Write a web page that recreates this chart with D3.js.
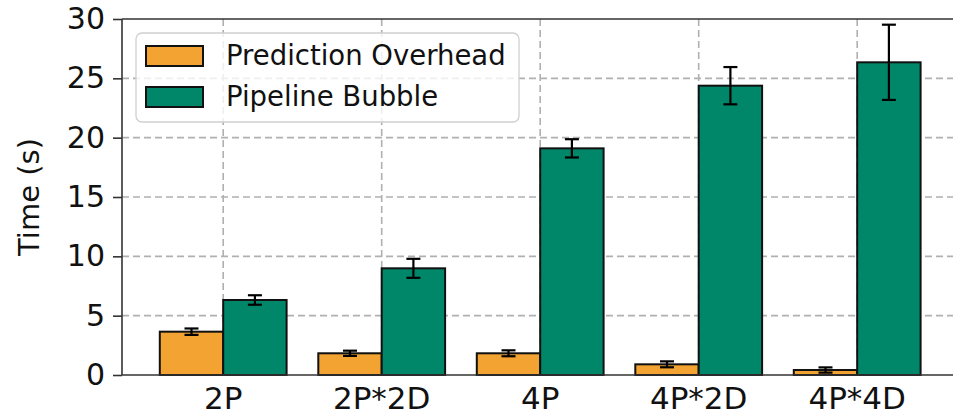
<!DOCTYPE html>
<html>
<head>
<meta charset="utf-8">
<script src="https://cdn.jsdelivr.net/npm/d3@7"></script>
<style>
  html, body { margin: 0; padding: 0; background: #fff; }
  svg { display: block; font-family: "DejaVu Sans", sans-serif; }
</style>
</head>
<body>
<svg id="chart" width="953" height="419"></svg>
<script>
// Configurations on the x axis
const categories = ["2P", "2P*2D", "4P", "4P*2D", "4P*4D"];

// Mean time (s) and error half-widths for each series
const predictionOverhead = [3.65, 1.83, 1.83, 0.90, 0.42];
const predictionOverheadErr = [0.27, 0.22, 0.25, 0.25, 0.22];
const pipelineBubble = [6.32, 8.99, 19.10, 24.38, 26.35];
const pipelineBubbleErr = [0.40, 0.80, 0.77, 1.57, 3.17];

const seriesNames = ["Prediction Overhead", "Pipeline Bubble"];
const yTicks = [0, 5, 10, 15, 20, 25, 30];

const colors = { "Prediction Overhead": "#F2A332", "Pipeline Bubble": "#00876A" };

const svg = d3.select("#chart");
const W = 953, H = 419;

// Plot area
const plotLeft = 122, plotTop = 19, plotBottom = 375, plotRight = 958.4;

const x = d3.scaleBand()
  .domain(categories)
  .range([plotLeft, plotRight])
  .paddingInner(0)
  .paddingOuter(0.1385);

const y = d3.scaleLinear().domain([0, 30]).range([plotBottom, plotTop]);

const barW = x.step() * 0.4;
const cx = c => x(c) + x.bandwidth() / 2;

const series = [
  { name: seriesNames[0], values: predictionOverhead, err: predictionOverheadErr, offset: -barW },
  { name: seriesNames[1], values: pipelineBubble, err: pipelineBubbleErr, offset: 0 }
];

// Dashed grid behind the bars
const grid = svg.append("g");
grid.selectAll("line.gy").data(yTicks.filter(t => t > 0 && t < 30)).join("line")
  .attr("x1", plotLeft).attr("x2", W)
  .attr("y1", d => y(d)).attr("y2", d => y(d))
  .attr("stroke", "#b0b0b0").attr("stroke-width", 1.6)
  .attr("stroke-dasharray", "7,4");
grid.selectAll("line.gx").data(categories).join("line")
  .attr("x1", d => cx(d)).attr("x2", d => cx(d))
  .attr("y1", plotTop).attr("y2", plotBottom)
  .attr("stroke", "#b0b0b0").attr("stroke-width", 1.6)
  .attr("stroke-dasharray", "7,4");

// Bars
series.forEach(s => {
  svg.append("g").selectAll("rect").data(categories).join("rect")
    .attr("x", (c) => cx(c) + s.offset)
    .attr("y", (c, i) => y(s.values[i]))
    .attr("width", barW)
    .attr("height", (c, i) => y(0) - y(s.values[i]))
    .attr("fill", colors[s.name])
    .attr("stroke", "#111")
    .attr("stroke-width", 2);
});

// Error bars
const cap = 7;
series.forEach(s => {
  const g = svg.append("g").attr("stroke", "#000").attr("stroke-width", 2.2);
  categories.forEach((c, i) => {
    const xc = cx(c) + s.offset + barW / 2;
    const lo = y(s.values[i] - s.err[i]);
    const hi = y(s.values[i] + s.err[i]);
    g.append("line").attr("x1", xc).attr("x2", xc).attr("y1", lo).attr("y2", hi);
    g.append("line").attr("x1", xc - cap).attr("x2", xc + cap).attr("y1", lo).attr("y2", lo);
    g.append("line").attr("x1", xc - cap).attr("x2", xc + cap).attr("y1", hi).attr("y2", hi);
  });
});

// Spines
svg.append("line").attr("x1", plotLeft).attr("x2", W).attr("y1", plotTop).attr("y2", plotTop)
  .attr("stroke", "#333").attr("stroke-width", 1.6);
svg.append("line").attr("x1", plotLeft).attr("x2", W).attr("y1", plotBottom).attr("y2", plotBottom)
  .attr("stroke", "#333").attr("stroke-width", 1.6);
svg.append("line").attr("x1", plotLeft).attr("x2", plotLeft).attr("y1", plotTop).attr("y2", plotBottom)
  .attr("stroke", "#333").attr("stroke-width", 1.6);

// Y axis
const yAxis = d3.axisLeft(y).tickValues(yTicks).tickSize(9).tickPadding(8);
const gy = svg.append("g").attr("transform", `translate(${plotLeft},0)`).call(yAxis);
gy.select(".domain").remove();
gy.selectAll(".tick line").attr("stroke", "#333").attr("stroke-width", 1.6);
gy.selectAll(".tick text").attr("font-size", 30).attr("fill", "#111")
  .attr("font-family", "DejaVu Sans");

// X axis (labels only)
const xAxis = d3.axisBottom(x).tickSize(0).tickPadding(12);
const gx = svg.append("g").attr("transform", `translate(0,${plotBottom})`).call(xAxis);
gx.select(".domain").remove();
gx.selectAll(".tick text").attr("font-size", 31).attr("fill", "#111")
  .attr("font-family", "DejaVu Sans");

// Y label
svg.append("text")
  .attr("transform", `translate(39,197) rotate(-90)`)
  .attr("text-anchor", "middle")
  .attr("font-size", 29).attr("fill", "#111")
  .text("Time (s)");

// Legend
const lg = svg.append("g");
lg.append("rect").attr("x", 136).attr("y", 33).attr("width", 383).attr("height", 89)
  .attr("rx", 6).attr("fill", "#fff").attr("fill-opacity", 0.8)
  .attr("stroke", "#d0d0d0").attr("stroke-width", 1.3);
seriesNames.forEach((n, i) => {
  const yy = 46 + i * 41;
  lg.append("rect").attr("x", 146).attr("y", yy).attr("width", 57).attr("height", 20)
    .attr("fill", colors[n]).attr("stroke", "#111").attr("stroke-width", 2);
  lg.append("text").attr("x", 226).attr("y", yy + 19)
    .attr("font-size", 27.5).attr("fill", "#111").text(n);
});
</script>
</body>
</html>
